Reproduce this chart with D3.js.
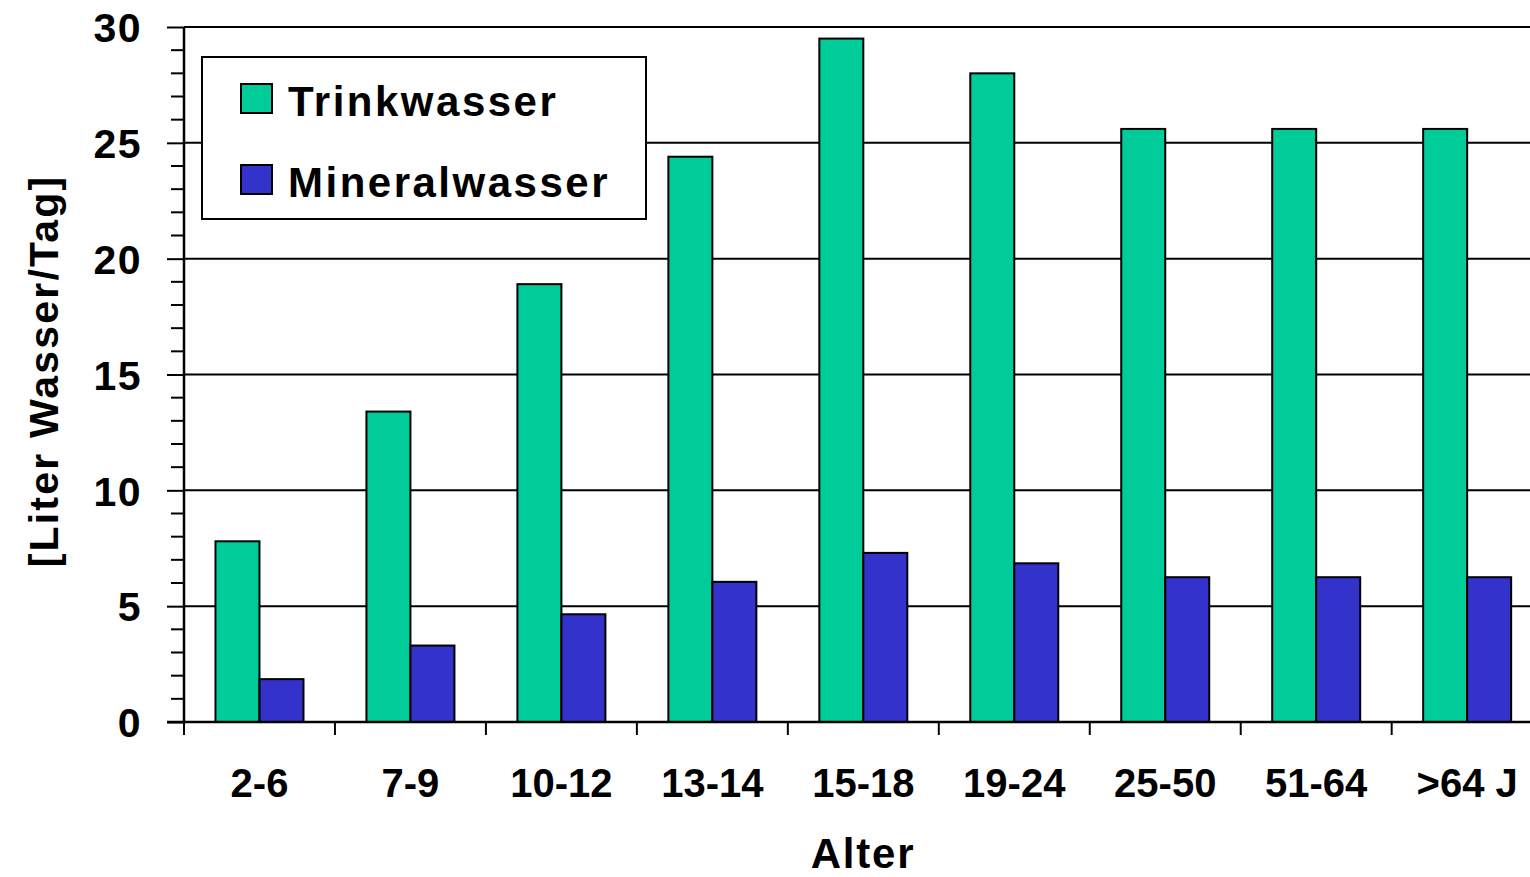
<!DOCTYPE html>
<html>
<head>
<meta charset="utf-8">
<script src="https://cdn.jsdelivr.net/npm/d3@7"></script>
<style>
  html, body { margin: 0; padding: 0; background: #fff; }
  svg { display: block; }
  text { font-family: "Liberation Sans", Arial, sans-serif; font-weight: bold; fill: #000; }
</style>
</head>
<body>
<svg id="chart" width="1530" height="877"></svg>
<script>
const categories = ["2-6", "7-9", "10-12", "13-14", "15-18", "19-24", "25-50", "51-64", ">64 J"];
const seriesNames = ["Trinkwasser", "Mineralwasser"];
const trinkwasser = [7.8, 13.4, 18.9, 24.4, 29.5, 28.0, 25.6, 25.6, 25.6];
const mineralwasser = [1.85, 3.3, 4.65, 6.05, 7.3, 6.85, 6.25, 6.25, 6.25];
const yTicks = [0, 5, 10, 15, 20, 25, 30];
const colors = ["#00CC99", "#3333CC"];

(function () {
const svg = d3.select("#chart");
const mLeft = 184, mTop = 27, mBottom = 722, band = 150.96;
const mRight = mLeft + band * categories.length;

const y = d3.scaleLinear().domain([0, 30]).range([mBottom, mTop]);
const x0 = d3.scaleBand().domain(categories).range([mLeft, mRight]).padding(0);
const x1 = d3.scaleBand().domain(seriesNames).range([0, x0.bandwidth()]).paddingInner(0).paddingOuter(0.7155);

// gridlines
svg.append("g").selectAll("line").data(yTicks.filter(d => d > 0)).join("line")
  .attr("x1", mLeft).attr("x2", 1530)
  .attr("y1", d => y(d)).attr("y2", d => y(d))
  .attr("stroke", "#000").attr("stroke-width", 2);

// bars
const data = categories.map((c, i) => ({ cat: c, vals: [trinkwasser[i], mineralwasser[i]] }));
const groups = svg.append("g").selectAll("g").data(data).join("g")
  .attr("transform", d => `translate(${x0(d.cat)},0)`);
groups.selectAll("rect").data(d => d.vals.map((v, j) => ({ s: seriesNames[j], v, j }))).join("rect")
  .attr("x", d => x1(d.s))
  .attr("width", x1.bandwidth())
  .attr("y", d => y(d.v))
  .attr("height", d => y(0) - y(d.v))
  .attr("fill", d => colors[d.j])
  .attr("stroke", "#000").attr("stroke-width", 2);

// y axis: minor ticks
const minor = d3.range(0, 31, 1).filter(d => d % 5 !== 0);
svg.append("g").selectAll("line").data(minor).join("line")
  .attr("x1", 171).attr("x2", mLeft)
  .attr("y1", d => y(d)).attr("y2", d => y(d))
  .attr("stroke", "#000").attr("stroke-width", 2);

// y axis with major ticks
const yAxis = d3.axisLeft(y).tickValues(yTicks).tickSize(17).tickPadding(25).tickFormat(d3.format("d"));
const yg = svg.append("g").attr("transform", `translate(${mLeft},0)`).call(yAxis);
yg.select(".domain").attr("stroke", "#000").attr("stroke-width", 2.5).attr("d", `M0,${mBottom}V${mTop}`);
yg.selectAll(".tick line").attr("stroke", "#000").attr("stroke-width", 2);
yg.selectAll(".tick text").attr("font-size", 41).attr("font-family", "Liberation Sans, Arial, sans-serif")
  .attr("font-weight", "bold").attr("fill", "#000").attr("letter-spacing", 1.5).attr("dy", "0.36em");

// x axis
const xAxis = d3.axisBottom(x0).tickSize(0).tickPadding(0);
const xg = svg.append("g").attr("transform", `translate(0,${mBottom})`).call(xAxis);
xg.select(".domain").remove();
xg.append("line").attr("x1", 167).attr("x2", 1530).attr("y1", 0).attr("y2", 0)
  .attr("stroke", "#000").attr("stroke-width", 2.5);
xg.selectAll(".tick text").attr("font-size", 40).attr("font-family", "Liberation Sans, Arial, sans-serif")
  .attr("font-weight", "bold").attr("fill", "#000").attr("dy", null).attr("y", 75);
const bounds = categories.map(c => x0(c)).concat([mRight]);
xg.selectAll("line.sep").data(bounds).join("line").attr("class", "sep")
  .attr("x1", d => d).attr("x2", d => d).attr("y1", 0).attr("y2", 13)
  .attr("stroke", "#000").attr("stroke-width", 2);

// axis titles
svg.append("text").attr("x", 863).attr("y", 868).attr("text-anchor", "middle")
  .attr("font-size", 42).attr("letter-spacing", 1.8).text("Alter");
svg.append("text").attr("transform", "translate(58,371) rotate(-90)").attr("text-anchor", "middle")
  .attr("font-size", 41).attr("letter-spacing", 2.2).text("[Liter Wasser/Tag]");

// legend
const lg = svg.append("g");
lg.append("rect").attr("x", 202).attr("y", 57).attr("width", 444).attr("height", 162)
  .attr("fill", "#fff").attr("stroke", "#000").attr("stroke-width", 2);
const items = lg.selectAll("g").data(seriesNames).join("g")
  .attr("transform", (d, i) => `translate(0,${i * 81})`);
items.append("rect").attr("x", 241).attr("y", 84).attr("width", 31).attr("height", 29)
  .attr("fill", (d, i) => colors[i]).attr("stroke", "#000").attr("stroke-width", 2);
items.append("text").attr("x", 288).attr("y", 116).attr("font-size", 42).attr("letter-spacing", 2.5).text(d => d);
})();
</script>
</body>
</html>
